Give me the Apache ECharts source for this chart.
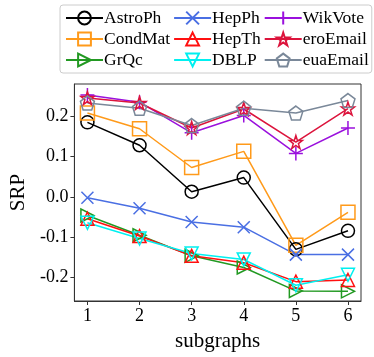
<!DOCTYPE html>
<html>
<head>
<meta charset="utf-8">
<script src="https://cdn.jsdelivr.net/npm/echarts@6/dist/echarts.min.js"></script>
<style>
  html, body { margin: 0; padding: 0; background: #fff; }
  #chart { width: 374px; height: 357px; }
</style>
</head>
<body>
<div id="chart"></div>
<script>
    // x positions (subgraph index)
    var subgraphs = [1, 2, 3, 4, 5, 6];
    var yTicks = [-0.2, -0.1, 0.0, 0.1, 0.2];

    // SRP values
    var astroPh  = [0.185, 0.128, 0.013, 0.048, -0.130, -0.084];
    var condMat  = [0.208, 0.169, 0.073, 0.113, -0.120, -0.038];
    var grQc     = [-0.046, -0.095, -0.146, -0.175, -0.233, -0.234];
    var hepPh    = [-0.002, -0.028, -0.062, -0.075, -0.143, -0.143];
    var hepTh    = [-0.054, -0.097, -0.146, -0.163, -0.210, -0.206];
    var dblp     = [-0.064, -0.103, -0.140, -0.155, -0.219, -0.193];
    var wikVote  = [0.253, 0.235, 0.159, 0.202, 0.108, 0.171];
    var eroEmail = [0.245, 0.233, 0.171, 0.218, 0.136, 0.219];
    var euaEmail = [0.233, 0.220, 0.177, 0.220, 0.208, 0.239];

    var font = 'Liberation Serif';

    // marker shapes
    var plusPath = 'path://M5,0V10M0,5H10';
    var crossPath = 'path://M0,0L10,10M10,0L0,10';
    var starPath = 'path://M50,0L61.8,35.4L99,35.4L69.1,57.3L80.9,92.7L50,70.8L19.1,92.7L30.9,57.3L1,35.4L38.2,35.4Z';
    var pentPath = 'path://M50,0L97.6,34.5L79.4,90.5L20.6,90.5L2.4,34.5Z';

    function pair(vals) {
        var out = [];
        for (var i = 0; i < subgraphs.length; i++) {
            out.push([subgraphs[i], vals[i]]);
        }
        return out;
    }

    function line(name, vals, color, symbol, rotate, size) {
        return {
            name: name,
            type: 'line',
            data: pair(vals),
            symbol: symbol,
            symbolSize: size || 13,
            symbolRotate: rotate || 0,
            lineStyle: { color: color, width: 1.5 },
            itemStyle: { color: 'none', borderColor: color, borderWidth: 1.5 },
            emphasis: { disabled: true },
            animation: false
        };
    }

    var myChart = echarts.init(document.getElementById('chart'));
    var option = {
        backgroundColor: '#fff',
        grid: {
            left: 68, right: 13, top: 84, bottom: 54,
            show: true, borderColor: '#333', borderWidth: 1
        },
        legend: {
            orient: 'vertical',
            left: 60, top: 5,
            height: 62,
            itemWidth: 37, itemHeight: 16, itemGap: 3,
            padding: [4, 3, 4, 5],
            borderColor: '#ccc', borderWidth: 1, borderRadius: 3,
            textStyle: { fontFamily: font, fontSize: 17.5, color: '#000', padding: [0, 1, 0, -4] },
            data: ['AstroPh', 'CondMat', 'GrQc', 'HepPh', 'HepTh', 'DBLP', 'WikVote', 'eroEmail', 'euaEmail']
        },
        xAxis: {
            type: 'value',
            min: 0.75, max: 6.25,
            name: 'subgraphs',
            nameLocation: 'middle',
            nameGap: 30,
            nameTextStyle: { fontFamily: font, fontSize: 21, color: '#000' },
            splitLine: { show: false },
            axisLine: { onZero: false, lineStyle: { color: '#333' } },
            axisTick: { customValues: subgraphs, length: 4, lineStyle: { color: '#333' } },
            axisLabel: { customValues: subgraphs, fontFamily: font, fontSize: 18, color: '#000', margin: 6 }
        },
        yAxis: {
            type: 'value',
            min: -0.258, max: 0.28,
            name: 'SRP',
            nameLocation: 'middle',
            nameGap: 44,
            nameTextStyle: { fontFamily: font, fontSize: 21, color: '#000' },
            splitLine: { show: false },
            axisLine: { show: true, onZero: false, lineStyle: { color: '#333' } },
            axisTick: { show: true, customValues: yTicks, length: 4, lineStyle: { color: '#333' } },
            axisLabel: {
                customValues: yTicks, fontFamily: font, fontSize: 18, color: '#000', margin: 6,
                formatter: function (v) { return v.toFixed(1); }
            }
        },
        series: [
            line('AstroPh', astroPh, '#000000', 'circle'),
            line('CondMat', condMat, '#ff9a1a', 'rect', 0, 14),
            line('GrQc', grQc, '#229922', 'triangle', -90),
            line('HepPh', hepPh, '#4a6fe3', crossPath, 0, 12),
            line('HepTh', hepTh, '#ff1010', 'triangle'),
            line('DBLP', dblp, '#00f0f0', 'triangle', 180),
            line('WikVote', wikVote, '#9a10dd', plusPath, 0, 14),
            line('eroEmail', eroEmail, '#dc143c', starPath, 0, 13),
            line('euaEmail', euaEmail, '#7a8899', pentPath, 0, 14)
        ]
    };
    option && myChart.setOption(option);
</script>
</body>
</html>
